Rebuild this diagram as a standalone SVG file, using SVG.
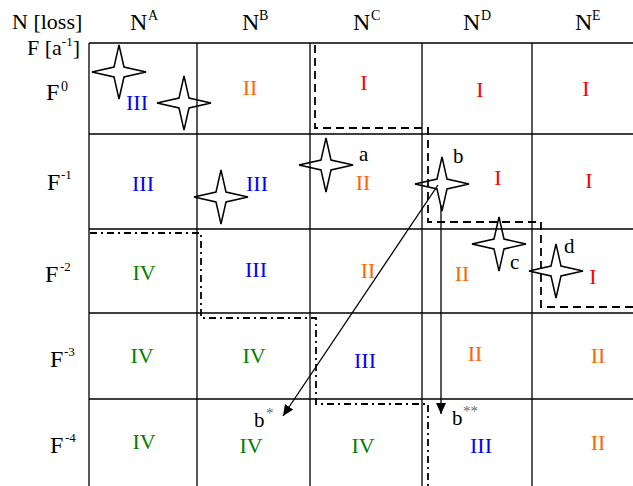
<svg xmlns="http://www.w3.org/2000/svg" width="633" height="486" viewBox="0 0 633 486">
<style>
text{font-family:"Liberation Serif","Times New Roman",serif;font-size:21px;fill:#000}
.h{font-size:22px}
.big{font-size:24px}
.sup{font-size:14px}
.sup2{font-size:13px}
.ast{font-size:15px;fill:#666}
.r{fill:#FF0000;text-anchor:middle;font-size:22px}
.o{fill:#FF6600;text-anchor:middle;font-size:22px}
.b{fill:#0000FF;text-anchor:middle;font-size:22px}
.g{fill:#008000;text-anchor:middle;font-size:22px}
.grid{stroke:#000;stroke-width:1.3;fill:none}
.dash{stroke:#000;stroke-width:1.8;fill:none;stroke-dasharray:8 5}
.dd{stroke:#000;stroke-width:1.8;fill:none;stroke-dasharray:7 4 2 4}
.star{stroke:#000;stroke-width:1.5;fill:none;stroke-linejoin:miter}
.arr{stroke:#000;stroke-width:1.3;fill:none}
</style>
<defs>
<path id="star" d="M0,-27 L5,-5 L27,0 L5,5 L0,27 L-5,5 L-27,0 L-5,-5 Z"/>
<marker id="ah" markerUnits="userSpaceOnUse" markerWidth="12" markerHeight="10" refX="11" refY="5" orient="auto">
<path d="M0,0 L11,5 L0,10 Z" fill="#000"/>
</marker>
</defs>

<g id="grid">
<path class="grid" d="M89,43 V486 M197,43 V486 M310,43 V486 M422,43 V486 M532,43 V486 M89,43 H633 M89,134 H633 M89,229 H633 M89,313 H633 M89,399 H633"/>
</g>

<g id="boundaries">
<path class="dash" d="M315,45 V128 H428 V222 H541 V307 H633"/>
<path class="dd" d="M90,233 H201 V318 H316 V404 H428 V486"/>
</g>

<g id="axis-labels">
<text class="h" x="12" y="29">N [loss]</text>
<text class="h" x="27" y="55">F [a<tspan class="sup2" dy="-9">-1</tspan><tspan dy="9">]</tspan></text>
</g>

<g id="col-headers">
<g id="col-A"><text class="big" x="130" y="30">N</text><text class="sup" x="148" y="20">A</text></g>
<g id="col-B"><text class="big" x="242" y="30">N</text><text class="sup" x="259" y="20">B</text></g>
<g id="col-C"><text class="big" x="353" y="30">N</text><text class="sup" x="371" y="20">C</text></g>
<g id="col-D"><text class="big" x="463" y="30">N</text><text class="sup" x="481" y="20">D</text></g>
<g id="col-E"><text class="big" x="575" y="30">N</text><text class="sup" x="592" y="20">E</text></g>
</g>

<g id="row-headers">
<g id="row-0"><text class="big" x="46" y="100">F</text><text class="sup" x="61" y="91">0</text></g>
<g id="row-1"><text class="big" x="47" y="190">F</text><text class="sup2" x="61" y="179">-1</text></g>
<g id="row-2"><text class="big" x="45" y="282">F</text><text class="sup2" x="60" y="271">-2</text></g>
<g id="row-3"><text class="big" x="50" y="367">F</text><text class="sup2" x="64" y="356">-3</text></g>
<g id="row-4"><text class="big" x="50" y="453">F</text><text class="sup2" x="65" y="442">-4</text></g>
</g>

<g id="cells">
<text class="b" x="137" y="110">III</text>
<text class="o" x="250" y="95">II</text>
<text class="r" x="364" y="90">I</text>
<text class="r" x="480" y="97">I</text>
<text class="r" x="586" y="96">I</text>

<text class="b" x="143" y="191">III</text>
<text class="b" x="257" y="191">III</text>
<text class="o" x="363" y="190">II</text>
<text class="r" x="498" y="185">I</text>
<text class="r" x="589" y="188">I</text>

<text class="g" x="144" y="280">IV</text>
<text class="b" x="256" y="277">III</text>
<text class="o" x="368" y="278">II</text>
<text class="o" x="462" y="281">II</text>
<text class="r" x="593" y="284">I</text>

<text class="g" x="142" y="363">IV</text>
<text class="g" x="254" y="363">IV</text>
<text class="b" x="365" y="368">III</text>
<text class="o" x="475" y="361">II</text>
<text class="o" x="598" y="363">II</text>

<text class="g" x="144" y="449">IV</text>
<text class="g" x="251" y="453">IV</text>
<text class="g" x="363" y="453">IV</text>
<text class="b" x="481" y="453">III</text>
<text class="o" x="598" y="450">II</text>
</g>

<g id="star-1"><use href="#star" class="star" x="119" y="72"/></g>
<g id="star-2"><use href="#star" class="star" x="184" y="103"/></g>
<g id="star-3"><use href="#star" class="star" x="221" y="197"/></g>
<g id="star-a"><use href="#star" class="star" x="326" y="165"/><text x="359" y="161">a</text></g>
<g id="star-b"><use href="#star" class="star" x="442" y="184"/><text x="453" y="163">b</text></g>
<g id="star-c"><use href="#star" class="star" x="499" y="244"/><text x="510" y="269">c</text></g>
<g id="star-d"><use href="#star" class="star" x="556" y="271"/><text x="564" y="253">d</text></g>

<g id="target-bstar"><text x="254" y="427">b</text><text class="ast" x="266" y="418">*</text></g>
<g id="target-bstarstar"><text x="452" y="425">b</text><text class="ast" x="463" y="416">**</text></g>

<g id="connectors">
<line class="arr" x1="438" y1="185" x2="283" y2="416" marker-end="url(#ah)"/>
<line class="arr" x1="441" y1="205" x2="441" y2="414" marker-end="url(#ah)"/>
</g>
</svg>
